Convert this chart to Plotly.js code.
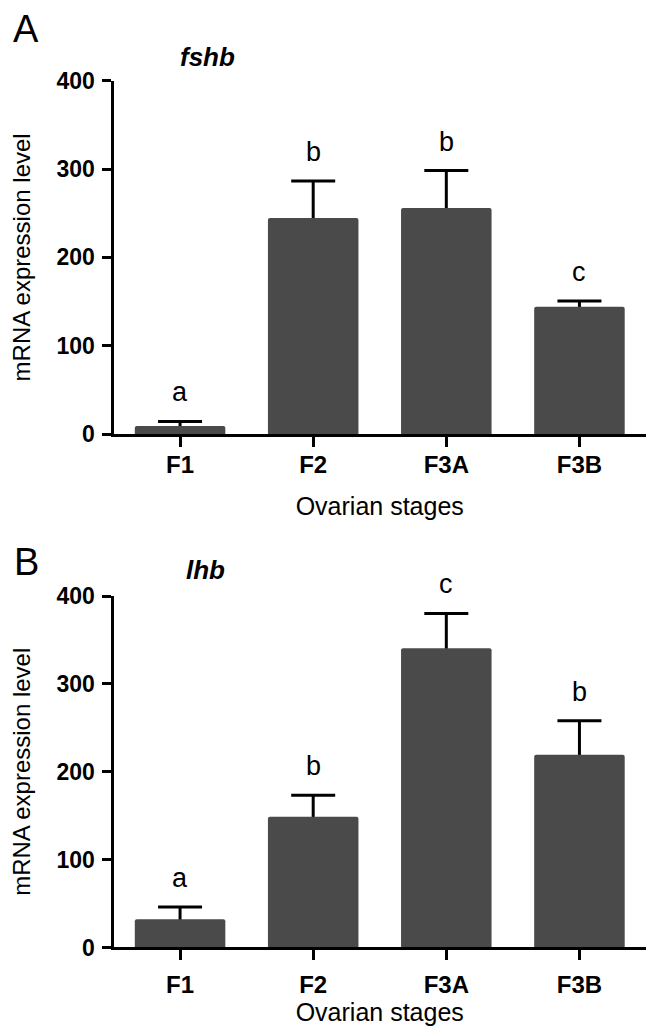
<!DOCTYPE html>
<html>
<head>
<meta charset="utf-8">
<script src="https://cdn.plot.ly/plotly-3.0.1.min.js"></script>
<style>html,body{margin:0;padding:0;background:#fff;}#chart{width:646px;height:1031px;}</style>
</head>
<body>
<div id="chart"></div>
<script>
// ---- data ----
const stages = ["F1", "F2", "F3A", "F3B"];
const fshbMean = [9, 244.6, 256, 144];
const fshbSem = [5.3, 42, 42.3, 6.5];
const fshbLetters = ["a", "b", "b", "c"];
const lhbMean = [32, 148.7, 340.5, 219.4];
const lhbSem = [14, 24.5, 39.7, 38.6];
const lhbLetters = ["a", "b", "c", "b"];
const yTicks = [0, 100, 200, 300, 400];

const FONT = "Liberation Sans, Arial, Helvetica, sans-serif";
const BAR = "#4a4a4a";

// error bars drawn on a transparent bar trace; the solid bars on top hide the lower half
function errTrace(mean, sem, xa, ya) {
  return {
    type: "bar", x: stages, y: mean, xaxis: xa, yaxis: ya,
    width: 0.68,
    marker: {color: "rgba(0,0,0,0)", line: {width: 0}},
    error_y: {type: "data", array: sem, symmetric: true,
              color: "#000", thickness: 3, width: 22},
    hoverinfo: "skip", showlegend: false
  };
}
function barTrace(mean, xa, ya) {
  return {
    type: "bar", x: stages, y: mean, xaxis: xa, yaxis: ya,
    width: 0.68,
    marker: {color: BAR, cornerradius: 2, line: {width: 0}},
    hoverinfo: "skip", showlegend: false
  };
}

function letterAnns(mean, sem, letters, xref, yref) {
  return letters.map((t, i) => ({
    x: stages[i], y: mean[i] + sem[i], xref: xref, yref: yref,
    text: t, showarrow: false, yanchor: "bottom", yshift: 12,
    font: {family: FONT, size: 27, color: "#000"}
  }));
}

function xAxis(anchor, standoff, titleStandoff) {
  return {
    anchor: anchor, domain: [0.1757, 1], range: [-0.5, 3.5], type: "category",
    showline: true, linecolor: "#000", linewidth: 3, mirror: false,
    ticks: "outside", ticklen: 10, tickwidth: 3, tickcolor: "#000",
    ticklabelstandoff: standoff,
    tickfont: {family: FONT, size: 24, color: "#000", weight: "bold"},
    showgrid: false, zeroline: false, fixedrange: true,
    title: {text: "Ovarian stages", standoff: titleStandoff, font: {family: FONT, size: 25, color: "#000"}}
  };
}

function yAxis(anchor, domain) {
  return {
    anchor: anchor, domain: domain, range: [0, 400],
    tickvals: yTicks, ticktext: yTicks.map(String),
    showline: true, linecolor: "#000", linewidth: 3,
    ticks: "outside", ticklen: 9, tickwidth: 3, tickcolor: "#000",
    ticklabelstandoff: 2,
    tickfont: {family: FONT, size: 23, color: "#000", weight: "bold"},
    showgrid: false, zeroline: false, fixedrange: true,
    title: {text: "mRNA expression level", standoff: 20, font: {family: FONT, size: 24, color: "#000"}}
  };
}

const data = [
  errTrace(fshbMean, fshbSem, "x", "y"),
  barTrace(fshbMean, "x", "y"),
  errTrace(lhbMean, lhbSem, "x2", "y2"),
  barTrace(lhbMean, "x2", "y2")
];

const annotations = [
  ...letterAnns(fshbMean, fshbSem, fshbLetters, "x", "y"),
  ...letterAnns(lhbMean, lhbSem, lhbLetters, "x2", "y2"),
  {text: "A", x: 25.5/646, y: 1 - 29/1031, xref: "paper", yref: "paper", showarrow: false,
   xanchor: "center", yanchor: "middle", font: {family: FONT, size: 38, color: "#000"}},
  {text: "B", x: 26/646, y: 1 - 561.5/1031, xref: "paper", yref: "paper", showarrow: false,
   xanchor: "center", yanchor: "middle", font: {family: FONT, size: 38, color: "#000"}},
  {text: "<b><i>fshb</i></b>", x: 207/646, y: 1 - 57/1031, xref: "paper", yref: "paper", showarrow: false,
   xanchor: "center", yanchor: "middle", font: {family: FONT, size: 26, color: "#000"}},
  {text: "<b><i>lhb</i></b>", x: 205/646, y: 1 - 570/1031, xref: "paper", yref: "paper", showarrow: false,
   xanchor: "center", yanchor: "middle", font: {family: FONT, size: 26, color: "#000"}}
];

const layout = {
  width: 646, height: 1031,
  margin: {l: 0, r: 0, t: 0, b: 0},
  paper_bgcolor: "#fff", plot_bgcolor: "#fff",
  barmode: "overlay",
  xaxis: xAxis("y", -3, 21),
  yaxis: yAxis("x", [0.5790, 0.9217]),
  xaxis2: xAxis("y2", 4, 6),
  yaxis2: yAxis("x2", [0.0810, 0.4219]),
  annotations: annotations,
  showlegend: false
};

Plotly.newPlot("chart", data, layout, {displayModeBar: false, staticPlot: true});
</script>
</body>
</html>
